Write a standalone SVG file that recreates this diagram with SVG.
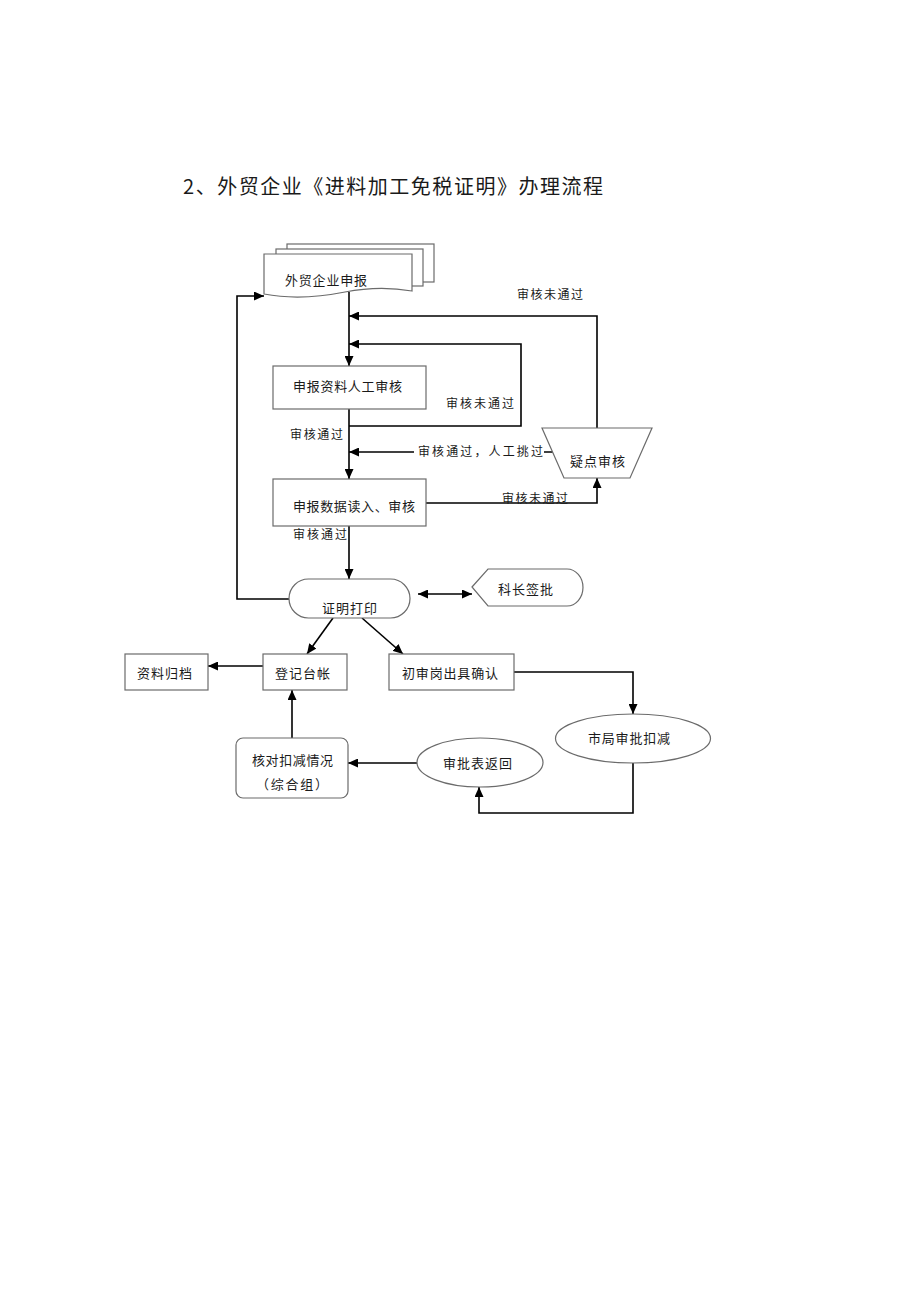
<svg xmlns="http://www.w3.org/2000/svg" width="920" height="1302" viewBox="0 0 920 1302">
<style>
.bg{fill:#ffffff}
.shape{fill:#ffffff;stroke:#6b6b6b;stroke-width:1.2}
.conn{fill:none;stroke:#000000;stroke-width:1.6}
.t{font-family:"Noto Sans CJK SC","Liberation Sans",sans-serif;font-size:13px;fill:#1a1a1a;dominant-baseline:central}
.lbl{font-family:"Noto Sans CJK SC","Liberation Sans",sans-serif;font-size:12px;fill:#1a1a1a;dominant-baseline:central}
.title{font-family:"Noto Sans CJK SC","Liberation Sans",sans-serif;font-size:20px;fill:#1a1a1a;dominant-baseline:central}
</style>
<defs>
<marker id="ah" markerUnits="userSpaceOnUse" markerWidth="11" markerHeight="9" refX="10" refY="4.5" orient="auto-start-reverse">
<path d="M0,0 L10,4.5 L0,9 Z" fill="#000000"/>
</marker>
</defs>
<rect class="bg" x="0" y="0" width="920" height="1302"/>
<text class="title" x="183" y="185" textLength="420" lengthAdjust="spacing">2、外贸企业《进料加工免税证明》办理流程</text>

<g id="connectors">
<path class="conn" d="M349,292 L349,366" marker-end="url(#ah)"/>
<path class="conn" d="M597,428 L597,316 L349,316" marker-end="url(#ah)"/>
<path class="conn" d="M349,426 L521,426 L521,344 L349,344" marker-end="url(#ah)"/>
<path class="conn" d="M349,409 L349,479" marker-end="url(#ah)"/>
<path class="conn" d="M553,452 L349,452" marker-end="url(#ah)"/>
<path class="conn" d="M426,503 L597,503 L597,478" marker-end="url(#ah)"/>
<path class="conn" d="M349,526 L349,579" marker-end="url(#ah)"/>
<path class="conn" d="M289,599 L237,599 L237,296 L264,296" marker-end="url(#ah)"/>
<path class="conn" d="M418,594 L472,594" marker-start="url(#ah)" marker-end="url(#ah)"/>
<path class="conn" d="M333,618 L307,654" marker-end="url(#ah)"/>
<path class="conn" d="M362,618 L403,654" marker-end="url(#ah)"/>
<path class="conn" d="M263,666 L208,666" marker-end="url(#ah)"/>
<path class="conn" d="M514,672 L633,672 L633,714" marker-end="url(#ah)"/>
<path class="conn" d="M633,763 L633,813 L479,813 L479,787" marker-end="url(#ah)"/>
<path class="conn" d="M417,763 L348,763" marker-end="url(#ah)"/>
<path class="conn" d="M292,738 L292,690" marker-end="url(#ah)"/>
</g>

<g id="labels">
<text class="lbl" x="517" y="293" textLength="66" lengthAdjust="spacing">审核未通过</text>
<text class="lbl" x="446" y="402" textLength="68" lengthAdjust="spacing">审核未通过</text>
<text class="lbl" x="290" y="433" textLength="53" lengthAdjust="spacing">审核通过</text>
<rect class="bg" x="414" y="441" width="130" height="19"/>
<text class="lbl" x="418" y="450" textLength="125" lengthAdjust="spacing">审核通过，人工挑过</text>
<text class="lbl" x="502" y="497" textLength="66" lengthAdjust="spacing">审核未通过</text>
<text class="lbl" x="293" y="533" textLength="54" lengthAdjust="spacing">审核通过</text>
</g>

<g id="node-declare">
<rect class="shape" x="287" y="244" width="147" height="38"/>
<rect class="shape" x="276" y="249" width="147" height="37"/>
<path class="shape" d="M264,254 L412,254 L412,291 C390,287 370,287 345,292 C320,297 290,299 264,294 Z"/>
<text class="t" x="285" y="279" textLength="82" lengthAdjust="spacing">外贸企业申报</text>
</g>

<g id="node-manual-review">
<rect class="shape" x="273" y="366" width="153" height="43"/>
<text class="t" x="293" y="385" textLength="109" lengthAdjust="spacing">申报资料人工审核</text>
</g>

<g id="node-suspect-review">
<path class="shape" d="M542,428 L652,428 L630,478 L564,478 Z"/>
<text class="t" x="570" y="460" textLength="55" lengthAdjust="spacing">疑点审核</text>
</g>

<g id="node-data-review">
<rect class="shape" x="273" y="479" width="153" height="47"/>
<text class="t" x="293" y="505" textLength="122" lengthAdjust="spacing">申报数据读入、审核</text>
</g>

<g id="node-print">
<rect class="shape" x="289" y="579" width="121" height="39" rx="19.5" ry="19.5"/>
<text class="t" x="322" y="607" textLength="55" lengthAdjust="spacing">证明打印</text>
</g>

<g id="node-chief">
<path class="shape" d="M472,587 L488,569 L567,569 A16,18.5 0 0 1 567,606 L488,606 Z"/>
<text class="t" x="498" y="588" textLength="55" lengthAdjust="spacing">科长签批</text>
</g>

<g id="node-archive">
<rect class="shape" x="125" y="654" width="83" height="36"/>
<text class="t" x="137" y="672" textLength="55" lengthAdjust="spacing">资料归档</text>
</g>

<g id="node-ledger">
<rect class="shape" x="263" y="654" width="84" height="36"/>
<text class="t" x="275" y="672" textLength="55" lengthAdjust="spacing">登记台帐</text>
</g>

<g id="node-confirm">
<rect class="shape" x="389" y="654" width="125" height="36"/>
<text class="t" x="402" y="672" textLength="96" lengthAdjust="spacing">初审岗出具确认</text>
</g>

<g id="node-city">
<ellipse class="shape" cx="633" cy="738.5" rx="77.5" ry="24.5"/>
<text class="t" x="588" y="737" textLength="82" lengthAdjust="spacing">市局审批扣减</text>
</g>

<g id="node-return">
<ellipse class="shape" cx="480" cy="762.5" rx="63" ry="24.5"/>
<text class="t" x="443" y="762" textLength="69" lengthAdjust="spacing">审批表返回</text>
</g>

<g id="node-check">
<rect class="shape" x="236" y="738" width="112" height="60" rx="7" ry="7"/>
<text class="t" x="252" y="759" textLength="81" lengthAdjust="spacing">核对扣减情况</text>
<text class="t" x="256" y="783" textLength="72" lengthAdjust="spacing">（综合组）</text>
</g>
</svg>
